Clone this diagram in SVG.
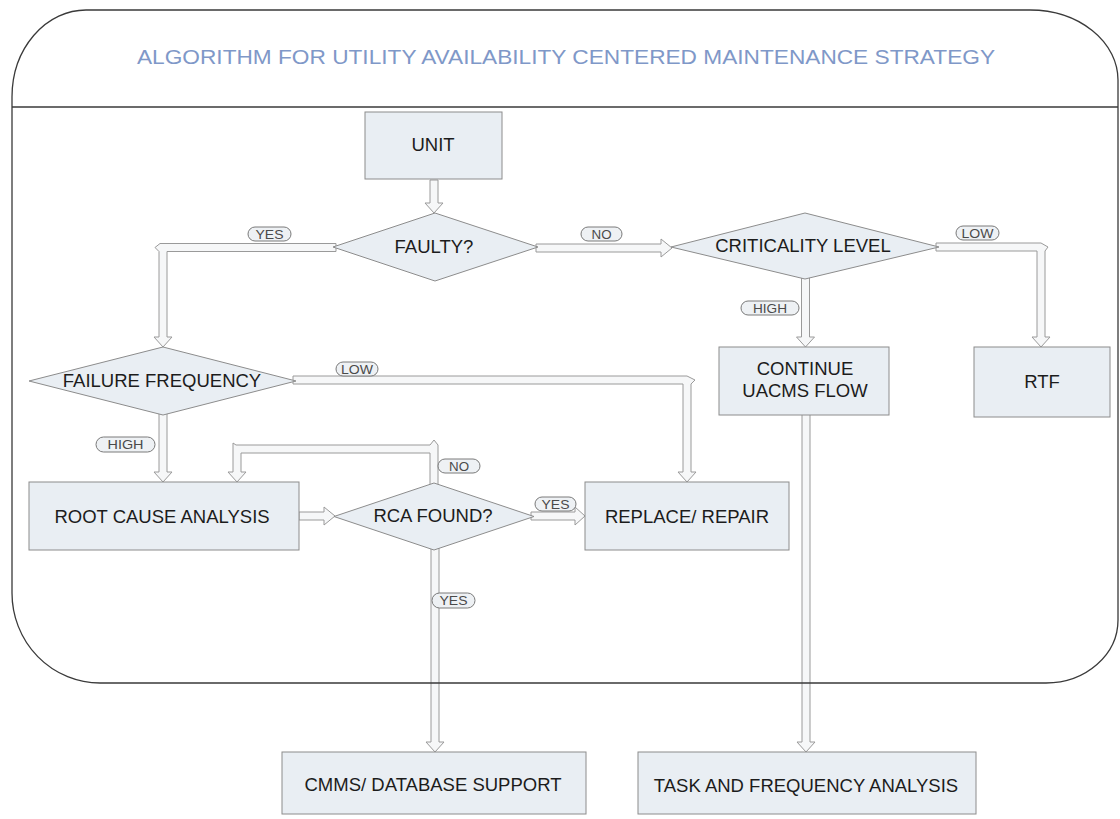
<svg xmlns="http://www.w3.org/2000/svg" width="1120" height="819" viewBox="0 0 1120 819">
<style>
.frame{fill:none;stroke:#3a3a3a;stroke-width:1.3}
.box{fill:#e9eef3;stroke:#8c8c8c;stroke-width:1}
.conn polygon{fill:#f6f7f8;stroke:#9a9a9a;stroke-width:1;stroke-linejoin:miter}
.t{font-family:"Liberation Sans",Arial,sans-serif;font-size:18.5px;fill:#1c1c1c;text-anchor:middle}
.title{font-family:"Liberation Sans",Arial,sans-serif;font-size:21px;fill:#7f98c8}
.pill{fill:#eef1f4;stroke:#7a7a7a;stroke-width:1}
.lt{font-family:"Liberation Sans",Arial,sans-serif;font-size:12px;fill:#4a4a4a;text-anchor:middle}
</style>
<rect width="1120" height="819" fill="#ffffff"/>

<g id="connectors" class="conn">
  <polygon points="430,180 438,180 438,203 443,203 434,213 425,203 430,203"/>
  <polygon points="336,243.5 160,243.5 155,247.5 159,251.5 159,337 154,337 163,347 172,337 167,337 167,251.5 336,251.5"/>
  <polygon points="536,244 661,244 661,239 672,248 661,257 661,252 536,252"/>
  <polygon points="936,243 1041,243 1048,247 1045,251 1045,337 1050,337 1041,347 1032,337 1037,337 1037,251 936,251"/>
  <polygon points="801.5,276 809.5,276 809.5,337 814.5,337 805.5,347 796.5,337 801.5,337"/>
  <polygon points="802,413 810,413 810,742 815,742 806,752 797,742 802,742"/>
  <polygon points="293,376 687,376 695,380 691,384 691,472 696,472 687,482 678,472 683,472 683,384 293,384"/>
  <polygon points="159,413 167,413 167,472 172,472 163,482 154,472 159,472"/>
  <polygon points="299,512 324,512 324,507 335,516 324,525 324,520 299,520"/>
  <polygon points="430,486 430,453 241,453 241,472 246,472 237,482 228,472 233,472 233,443 236,445 430,445 434,440 438,445 438,486"/>
  <polygon points="531,512 575,512 575,507 585,516 575,525 575,520 531,520"/>
  <polygon points="431,548 439,548 439,742 444,742 435,752 426,742 431,742"/>
</g>

<g id="frame">
  <path class="frame" d="M86,10 L1030,10 A88,70 0 0 1 1118,80 L1118,620 A72,63 0 0 1 1046,683 L100,683 A88,90 0 0 1 12,593 L12,97 A74,87 0 0 1 86,10 Z"/>
  <path class="frame" d="M12,107 L1118,107"/>
  <text class="title" x="137" y="64" textLength="858" lengthAdjust="spacingAndGlyphs">ALGORITHM FOR UTILITY AVAILABILITY CENTERED MAINTENANCE STRATEGY</text>
</g>

<g id="unit">
  <rect class="box" x="365" y="112" width="137" height="67"/>
  <text class="t" x="433" y="151">UNIT</text>
</g>
<g id="faulty">
  <polygon class="box" points="333,247 435,213 538,247 435,281"/>
  <text class="t" x="434" y="253">FAULTY?</text>
</g>
<g id="criticality">
  <polygon class="box" points="671,247 805,213 939,247 805,279"/>
  <text class="t" x="803" y="252">CRITICALITY LEVEL</text>
</g>
<g id="failure-frequency">
  <polygon class="box" points="29,381 163,347 296,381 163,415"/>
  <text class="t" x="162" y="387">FAILURE FREQUENCY</text>
</g>
<g id="continue">
  <rect class="box" x="719" y="347" width="170" height="68"/>
  <text class="t" x="805" y="375">CONTINUE</text>
  <text class="t" x="805" y="397">UACMS FLOW</text>
</g>
<g id="rtf">
  <rect class="box" x="974" y="347" width="136" height="70"/>
  <text class="t" x="1042" y="388">RTF</text>
</g>
<g id="root-cause">
  <rect class="box" x="29" y="482" width="270" height="68"/>
  <text class="t" x="162" y="523">ROOT CAUSE ANALYSIS</text>
</g>
<g id="rca-found">
  <polygon class="box" points="334,516.5 434,483 534,516.5 434,550"/>
  <text class="t" x="433" y="522">RCA FOUND?</text>
</g>
<g id="replace-repair">
  <rect class="box" x="585" y="482" width="204" height="68"/>
  <text class="t" x="687" y="523">REPLACE/ REPAIR</text>
</g>
<g id="cmms">
  <rect class="box" x="282" y="752" width="304" height="62"/>
  <text class="t" x="433" y="791">CMMS/ DATABASE SUPPORT</text>
</g>
<g id="task-frequency">
  <rect class="box" x="638" y="752" width="338" height="62"/>
  <text class="t" x="806" y="792">TASK AND FREQUENCY ANALYSIS</text>
</g>

<g id="labels">
  <rect class="pill" x="248" y="227" width="43" height="14" rx="7"/>
  <text class="lt" x="269.5" y="238.5" textLength="28" lengthAdjust="spacingAndGlyphs">YES</text>
  <rect class="pill" x="581" y="227" width="41" height="14" rx="7"/>
  <text class="lt" x="601.5" y="238.5" textLength="20" lengthAdjust="spacingAndGlyphs">NO</text>
  <rect class="pill" x="956" y="226" width="43" height="14" rx="7"/>
  <text class="lt" x="977.5" y="237.5" textLength="32" lengthAdjust="spacingAndGlyphs">LOW</text>
  <rect class="pill" x="741" y="301" width="58" height="14" rx="7"/>
  <text class="lt" x="770" y="312.5" textLength="34" lengthAdjust="spacingAndGlyphs">HIGH</text>
  <rect class="pill" x="336" y="362" width="42" height="14" rx="7"/>
  <text class="lt" x="357" y="373.5" textLength="32" lengthAdjust="spacingAndGlyphs">LOW</text>
  <rect class="pill" x="96" y="437" width="59" height="15" rx="7.5"/>
  <text class="lt" x="125.5" y="449" textLength="36" lengthAdjust="spacingAndGlyphs">HIGH</text>
  <rect class="pill" x="438" y="459" width="42" height="14" rx="7"/>
  <text class="lt" x="459" y="470.5" textLength="20" lengthAdjust="spacingAndGlyphs">NO</text>
  <rect class="pill" x="535" y="497" width="41" height="14" rx="7"/>
  <text class="lt" x="555.5" y="508.5" textLength="28" lengthAdjust="spacingAndGlyphs">YES</text>
  <rect class="pill" x="432" y="593" width="43" height="15" rx="7.5"/>
  <text class="lt" x="453.5" y="605" textLength="28" lengthAdjust="spacingAndGlyphs">YES</text>
</g>
</svg>
